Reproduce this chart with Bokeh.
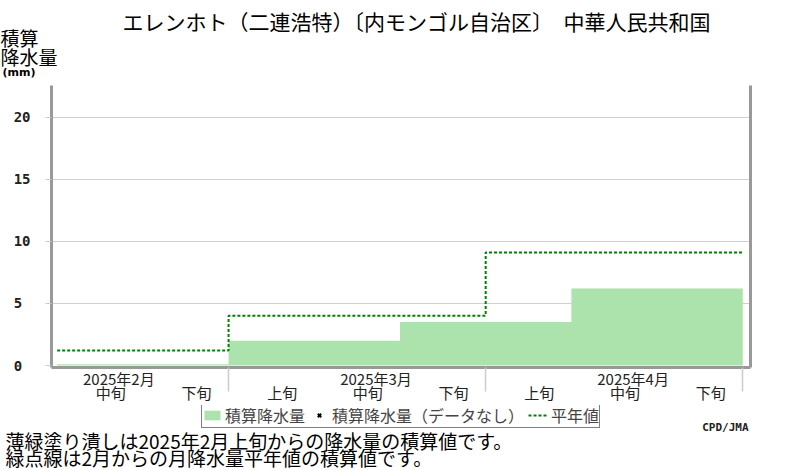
from bokeh.plotting import figure
from bokeh.layouts import column
from bokeh.models import (Range1d, LinearAxis, FixedTicker, Legend, LegendItem, Label,
                          Grid, ColumnDataSource, Title)
from bokeh.embed import file_html
from bokeh.resources import INLINE

# ---------------- data ----------------
title_text = "エレンホト（二連浩特）〔内モンゴル自治区〕　中華人民共和国"
month_labels = ["2025年2月", "2025年3月", "2025年4月"]
dekad_labels = ["上旬", "中旬", "下旬"]
# dekad index 0 = 2025 Feb 上旬 ... 8 = Apr 下旬
dekad_index = [0, 1, 2, 3, 4, 5, 6, 7, 8]
cum_precip = [0.0, 0.1, 0.1, 2.0, 2.0, 3.5, 3.5, 6.2, 6.2]   # mm, cumulative
normal_cum = [1.2, 4.0, 9.1]                                  # mm, monthly normal cumulative
y_ticks = [0, 5, 10, 15, 20]
legend_labels = ["積算降水量", "積算降水量（データなし）", "平年値"]
notes = ["薄緑塗り潰しは2025年2月上旬からの降水量の積算値です。",
         "緑点線は2月からの月降水量平年値の積算値です。"]
credit = "CPD/JMA"

JP = "Noto Sans CJK JP"
JP_H = 1.448      # font box height / em (Noto Sans CJK)
DV_H = 1.164      # DejaVu
FILL = "#ace3ac"
NORM = "#008000"

# ================= main chart =================
p = figure(width=800, height=405, output_backend="svg", toolbar_location=None,
           x_range=Range1d(0.934, 9.09), y_range=Range1d(-0.16, 22.54),
           x_axis_type=None, y_axis_type=None,
           min_border_left=51, min_border_right=50, min_border_top=85, min_border_bottom=34)
p.outline_line_color = None
p.background_fill_color = "white"
p.border_fill_color = "white"
p.title.visible = False

grid = Grid(dimension=1, ticker=FixedTicker(ticks=[t for t in y_ticks if t > 0]),
            grid_line_color="#d0d0d0", grid_line_width=1)
p.add_layout(grid)

first = 1  # first displayed dekad
xs = dekad_index[first:] + [dekad_index[-1] + 1]
ys = cum_precip[first:] + [cum_precip[-1]]
src = ColumnDataSource(dict(x=xs, y1=[0] * len(xs), y2=ys))
p.varea_step(x="x", y1="y1", y2="y2", source=src, step_mode="after",
             fill_color=FILL, fill_alpha=1.0)

nx = [first] + [3 * (m + 1) for m in range(len(normal_cum))]
ny = normal_cum + [normal_cum[-1]]
p.step(x=nx, y=ny, mode="after", line_color=NORM, line_width=2, line_dash="3 2")

# ---- y axis ----
yover = {t: (str(t) if t >= 10 else str(t) + "\u00a0") for t in y_ticks}
yaxis = LinearAxis(ticker=FixedTicker(ticks=y_ticks), major_label_overrides=yover,
                   axis_line_color="#999999", axis_line_width=3,
                   major_tick_in=0, major_tick_out=6, major_tick_line_color="#cccccc",
                   minor_tick_line_color=None, major_label_standoff=15,
                   major_label_text_font="DejaVu Sans Mono", major_label_text_font_style="bold",
                   major_label_text_font_size="14px", major_label_text_color="#222222")
p.add_layout(yaxis, "left")

# right border
raxis = LinearAxis(ticker=FixedTicker(ticks=[]), axis_line_color="#999999", axis_line_width=3,
                   major_tick_line_color=None, minor_tick_line_color=None,
                   major_label_text_font_size="0px")
p.add_layout(raxis, "right")

# ---- x axes: month row (with separators), dekad row ----
mpos = [3 * m + 1.72 for m in range(len(month_labels))]
mover = {pos: lab for pos, lab in zip(mpos, month_labels)}
sep = [3 * (m + 1) for m in range(len(month_labels))]
xaxis_m = LinearAxis(ticker=FixedTicker(ticks=mpos, minor_ticks=sep), major_label_overrides=mover,
                     axis_line_color="#999999", axis_line_width=3,
                     major_tick_line_color=None, major_tick_out=0, major_tick_in=0,
                     minor_tick_out=24, minor_tick_in=0, minor_tick_line_color="#cccccc",
                     minor_tick_line_width=1.5, major_label_standoff=-24,
                     major_label_text_font=JP, major_label_text_font_size="15px",
                     major_label_text_color="#222222")
p.add_layout(xaxis_m, "below")

dk_pos = [k + 0.625 for k in dekad_index[first:]]
dk_over = {pos: dekad_labels[k % 3] for pos, k in zip(dk_pos, dekad_index[first:])}
xaxis_d = LinearAxis(ticker=FixedTicker(ticks=dk_pos), major_label_overrides=dk_over,
                     axis_line_color=None, major_tick_line_color=None, major_tick_out=0,
                     major_tick_in=0, minor_tick_line_color=None, minor_tick_out=0,
                     major_label_standoff=-10,
                     major_label_text_font=JP, major_label_text_font_size="15px",
                     major_label_text_color="#222222")
p.add_layout(xaxis_d, "below")


def add_title(text, font, px, hfac, style, align, offset, row_h):
    h = px * hfac
    t = Title(text=text, align=align, offset=offset, vertical_align="middle",
              standoff=int(round(row_h - 2 - h)), text_font=font,
              text_font_size=f"{px}px", text_font_style=style, text_color="black")
    p.add_layout(t, "above")


# above rows (outward from frame): (mm), 降水量, 積算, title
add_title("(mm)", "DejaVu Sans", 11, DV_H, "bold", "left", -49, 26)
add_title("降水量", JP, 19, JP_H, "normal", "left", -51, 8)
add_title("積算", JP, 19, JP_H, "normal", "left", -51, 32)
add_title(title_text, JP, 21, JP_H, "normal", "left", 71, 2)

# ================= legend / notes strip =================
q = figure(width=800, height=65, output_backend="svg", toolbar_location=None,
           x_range=Range1d(0, 1), y_range=Range1d(0, 1),
           x_axis_type=None, y_axis_type=None,
           min_border_left=0, min_border_right=0, min_border_top=0, min_border_bottom=0)
q.outline_line_color = None
q.background_fill_color = "white"
q.border_fill_color = "white"
q.title.visible = False

for fig in (p, q):
    try:
        fig.frame_align = False
    except Exception:
        pass

# legend swatches: one off-screen sample each (only their legend glyphs are seen)
g_fill = q.varea(x=[-10, -9], y1=[-10, -10], y2=[-9, -9], fill_color=FILL, fill_alpha=1.0)
g_nodata = q.scatter(x=[-10], y=[-10], marker="x", size=8, line_width=2, line_color="black")
g_norm = q.line(x=[-10, -9], y=[-10, -10], line_color=NORM, line_width=2, line_dash="3 2")

legend = Legend(items=[LegendItem(label=lab, renderers=[r])
                       for lab, r in zip(legend_labels, [g_fill, g_nodata, g_norm])],
                orientation="horizontal", location=(201, 42), margin=0,
                padding=0, spacing=4, label_standoff=3, glyph_width=20, glyph_height=12,
                label_text_font="DejaVu Sans, Noto Sans CJK JP", label_text_font_size="16px",
                label_height=16,
                border_line_color="black", border_line_width=1.5,
                background_fill_color="white", background_fill_alpha=1.0)
q.add_layout(legend)

q.add_layout(Label(x=748, y=43, x_units="screen", y_units="screen", text=credit,
                   text_align="right", text_baseline="middle",
                   text_font="DejaVu Sans Mono", text_font_style="bold",
                   text_font_size="11px", text_color="#222222"))
for txt, yy in zip(notes, [30, 13]):
    q.add_layout(Label(x=5, y=yy, x_units="screen", y_units="screen", text=txt,
                       text_align="left", text_baseline="middle",
                       text_font=JP, text_font_size="19px", text_color="black"))

layout = column(p, q, spacing=0)
open("out.html", "w").write(file_html(layout, INLINE))
